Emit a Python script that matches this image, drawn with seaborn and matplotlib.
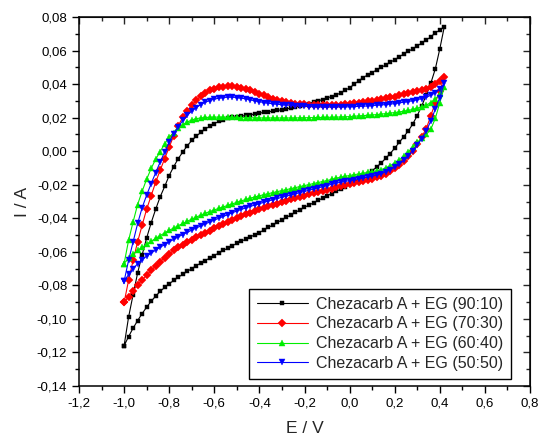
import numpy as np
import matplotlib
matplotlib.use("Agg")
import matplotlib.pyplot as plt
from matplotlib.ticker import MultipleLocator, FuncFormatter
import seaborn as sns

# potential scan, 20 mV steps: -1.00 -> 0.42 V and back
E_fwd = np.round(np.arange(-1.0, 0.4201, 0.02), 2)
E_rev = E_fwd[::-1][1:]

# current (A), forward branch (-1.00..0.42) and reverse branch (0.40..-1.00)
blk_fwd = [-0.1160, -0.0988, -0.0855, -0.0726, -0.0618, -0.0517, -0.0427, -0.0346, -0.0272, -0.0210,
           -0.0145, -0.0092, -0.0045, -0.0005, 0.0032, 0.0064, 0.0089, 0.0112, 0.0132, 0.0149,
           0.0164, 0.0177, 0.0187, 0.0195, 0.0201, 0.0205, 0.0209, 0.0213, 0.0217, 0.0222,
           0.0227, 0.0231, 0.0235, 0.0239, 0.0243, 0.0247, 0.0252, 0.0257, 0.0263, 0.0270,
           0.0277, 0.0284, 0.0292, 0.0300, 0.0308, 0.0317, 0.0326, 0.0335, 0.0347, 0.0362,
           0.0378, 0.0398, 0.0420, 0.0438, 0.0455, 0.0469, 0.0484, 0.0499, 0.0514, 0.0530,
           0.0545, 0.0562, 0.0580, 0.0595, 0.0610, 0.0627, 0.0645, 0.0662, 0.0682, 0.0705,
           0.0722, 0.0742]
blk_rev = [0.0610, 0.0490, 0.0405, 0.0335, 0.0270, 0.0212, 0.0162, 0.0120, 0.0086, 0.0052,
           0.0018, -0.0014, -0.0043, -0.0070, -0.0095, -0.0116, -0.0134, -0.0151, -0.0167, -0.0182,
           -0.0198, -0.0213, -0.0227, -0.0240, -0.0253, -0.0266, -0.0280, -0.0294, -0.0308, -0.0321,
           -0.0335, -0.0350, -0.0365, -0.0380, -0.0395, -0.0410, -0.0425, -0.0440, -0.0455, -0.0470,
           -0.0485, -0.0498, -0.0511, -0.0524, -0.0537, -0.0550, -0.0564, -0.0578, -0.0592, -0.0607,
           -0.0622, -0.0637, -0.0652, -0.0667, -0.0683, -0.0700, -0.0717, -0.0734, -0.0752, -0.0771,
           -0.0790, -0.0812, -0.0836, -0.0864, -0.0895, -0.0930, -0.0968, -0.1010, -0.1055, -0.1105,
           -0.1160]

red_fwd = [-0.0902, -0.0769, -0.0650, -0.0540, -0.0441, -0.0346, -0.0265, -0.0185, -0.0113, -0.0044,
           0.0024, 0.0092, 0.0152, 0.0202, 0.0240, 0.0274, 0.0303, 0.0328, 0.0347, 0.0362,
           0.0373, 0.0380, 0.0385, 0.0388, 0.0388, 0.0385, 0.0379, 0.0371, 0.0362, 0.0352,
           0.0342, 0.0332, 0.0322, 0.0313, 0.0305, 0.0298, 0.0292, 0.0288, 0.0284, 0.0281,
           0.0279, 0.0277, 0.0276, 0.0275, 0.0274, 0.0274, 0.0274, 0.0275, 0.0277, 0.0280,
           0.0283, 0.0287, 0.0290, 0.0294, 0.0298, 0.0302, 0.0306, 0.0311, 0.0316, 0.0321,
           0.0326, 0.0332, 0.0338, 0.0344, 0.0350, 0.0357, 0.0364, 0.0372, 0.0384, 0.0400,
           0.0418, 0.0443]
red_rev = [0.0360, 0.0290, 0.0210, 0.0135, 0.0085, 0.0042, 0.0004, -0.0030, -0.0058, -0.0082,
           -0.0102, -0.0119, -0.0134, -0.0145, -0.0155, -0.0164, -0.0172, -0.0179, -0.0185, -0.0191,
           -0.0197, -0.0203, -0.0209, -0.0216, -0.0223, -0.0230, -0.0237, -0.0244, -0.0251, -0.0258,
           -0.0265, -0.0272, -0.0280, -0.0288, -0.0296, -0.0304, -0.0312, -0.0320, -0.0329, -0.0338,
           -0.0347, -0.0356, -0.0366, -0.0376, -0.0387, -0.0398, -0.0410, -0.0422, -0.0434, -0.0447,
           -0.0460, -0.0473, -0.0486, -0.0499, -0.0513, -0.0527, -0.0542, -0.0557, -0.0574, -0.0592,
           -0.0612, -0.0634, -0.0658, -0.0684, -0.0711, -0.0739, -0.0767, -0.0798, -0.0831, -0.0867,
           -0.0902]

grn_fwd = [-0.0670, -0.0531, -0.0421, -0.0318, -0.0239, -0.0167, -0.0103, -0.0048, -0.0002, 0.0044,
           0.0082, 0.0111, 0.0138, 0.0158, 0.0174, 0.0186, 0.0194, 0.0198, 0.0201, 0.0202,
           0.0203, 0.0203, 0.0203, 0.0202, 0.0202, 0.0201, 0.0200, 0.0200, 0.0199, 0.0199,
           0.0198, 0.0198, 0.0198, 0.0198, 0.0198, 0.0198, 0.0198, 0.0198, 0.0198, 0.0199,
           0.0199, 0.0200, 0.0200, 0.0201, 0.0201, 0.0202, 0.0202, 0.0203, 0.0204, 0.0205,
           0.0206, 0.0208, 0.0210, 0.0212, 0.0214, 0.0216, 0.0218, 0.0221, 0.0224, 0.0227,
           0.0230, 0.0234, 0.0238, 0.0243, 0.0249, 0.0256, 0.0264, 0.0275, 0.0290, 0.0310,
           0.0340, 0.0383]
grn_rev = [0.0290, 0.0195, 0.0130, 0.0100, 0.0078, 0.0052, 0.0024, -0.0004, -0.0030, -0.0052,
           -0.0070, -0.0087, -0.0100, -0.0110, -0.0117, -0.0122, -0.0127, -0.0132, -0.0136, -0.0140,
           -0.0145, -0.0150, -0.0155, -0.0161, -0.0168, -0.0175, -0.0181, -0.0187, -0.0193, -0.0199,
           -0.0205, -0.0211, -0.0217, -0.0223, -0.0229, -0.0235, -0.0241, -0.0247, -0.0253, -0.0259,
           -0.0266, -0.0273, -0.0280, -0.0288, -0.0296, -0.0305, -0.0314, -0.0323, -0.0332, -0.0341,
           -0.0350, -0.0360, -0.0370, -0.0381, -0.0393, -0.0405, -0.0418, -0.0431, -0.0444, -0.0458,
           -0.0472, -0.0487, -0.0503, -0.0520, -0.0537, -0.0555, -0.0573, -0.0592, -0.0612, -0.0638,
           -0.0670]

blu_fwd = [-0.0775, -0.0650, -0.0540, -0.0431, -0.0337, -0.0262, -0.0193, -0.0129, -0.0064, -0.0004,
           0.0055, 0.0105, 0.0145, 0.0183, 0.0214, 0.0239, 0.0260, 0.0278, 0.0292, 0.0302,
           0.0310, 0.0316, 0.0320, 0.0322, 0.0322, 0.0320, 0.0316, 0.0312, 0.0306, 0.0300,
           0.0295, 0.0290, 0.0286, 0.0283, 0.0280, 0.0277, 0.0275, 0.0273, 0.0271, 0.0269,
           0.0267, 0.0266, 0.0265, 0.0264, 0.0263, 0.0263, 0.0263, 0.0263, 0.0264, 0.0264,
           0.0265, 0.0266, 0.0267, 0.0268, 0.0270, 0.0272, 0.0274, 0.0276, 0.0278, 0.0281,
           0.0284, 0.0288, 0.0292, 0.0296, 0.0301, 0.0307, 0.0314, 0.0322, 0.0333, 0.0348,
           0.0370, 0.0405]
blu_rev = [0.0320, 0.0250, 0.0180, 0.0120, 0.0075, 0.0038, 0.0004, -0.0028, -0.0055, -0.0078,
           -0.0096, -0.0111, -0.0124, -0.0134, -0.0142, -0.0149, -0.0155, -0.0160, -0.0165, -0.0170,
           -0.0175, -0.0180, -0.0185, -0.0191, -0.0198, -0.0205, -0.0212, -0.0219, -0.0226, -0.0233,
           -0.0240, -0.0247, -0.0254, -0.0261, -0.0268, -0.0275, -0.0282, -0.0289, -0.0297, -0.0305,
           -0.0313, -0.0321, -0.0329, -0.0338, -0.0347, -0.0357, -0.0367, -0.0378, -0.0389, -0.0400,
           -0.0411, -0.0422, -0.0434, -0.0446, -0.0458, -0.0471, -0.0484, -0.0497, -0.0511, -0.0526,
           -0.0541, -0.0557, -0.0573, -0.0590, -0.0608, -0.0626, -0.0647, -0.0672, -0.0700, -0.0735,
           -0.0775]

labels = ["Chezacarb A + EG (90:10)", "Chezacarb A + EG (70:30)",
          "Chezacarb A + EG (60:40)", "Chezacarb A + EG (50:50)"]
colors = ["#000000", "#ff0000", "#00ee00", "#0000ff"]
markers = ["s", "D", "^", "v"]
msizes = [3.2, 3.6, 4.0, 4.0]
series = [(blk_fwd, blk_rev), (red_fwd, red_rev), (grn_fwd, grn_rev), (blu_fwd, blu_rev)]

sns.set_style("ticks")
plt.rcParams["font.family"] = ["Liberation Sans", "DejaVu Sans"]

fig = plt.figure(figsize=(5.42, 4.46), dpi=100)
ax = fig.add_axes([79 / 542, 1 - 386 / 446, 451 / 542, 369 / 446])

E_loop = np.concatenate([E_fwd, E_rev])
for (fwd, rev), lab, c, m, ms in zip(series, labels, colors, markers, msizes):
    I_loop = np.array(fwd + rev)
    sns.lineplot(x=E_loop, y=I_loop, sort=False, estimator=None, ax=ax,
                 color=c, marker=m, markersize=ms, markeredgewidth=0.3,
                 markeredgecolor=c, linewidth=0.8, label=lab)

ax.set_xlim(-1.2, 0.8)
ax.set_ylim(-0.14, 0.08)


def comma(fmt):
    def f(v, pos):
        if abs(v) < 1e-9:
            v = 0.0
        return fmt.format(v).replace(".", ",")
    return FuncFormatter(f)


ax.xaxis.set_major_locator(MultipleLocator(0.2))
ax.xaxis.set_minor_locator(MultipleLocator(0.1))
ax.yaxis.set_major_locator(MultipleLocator(0.02))
ax.yaxis.set_minor_locator(MultipleLocator(0.01))
ax.xaxis.set_major_formatter(comma("{:.1f}"))
ax.yaxis.set_major_formatter(comma("{:.2f}"))
ax.tick_params(which="both", direction="out", width=1, colors="black", labelsize=9.5)
ax.tick_params(which="major", length=5)
ax.tick_params(which="minor", length=3)
for s in ax.spines.values():
    s.set_linewidth(1.1)
    s.set_color("black")

# mirrored ticks on top and right, pointing inward
top = ax.secondary_xaxis("top")
top.xaxis.set_major_locator(MultipleLocator(0.2))
top.xaxis.set_minor_locator(MultipleLocator(0.1))
top.tick_params(which="both", direction="in", labeltop=False, width=1)
top.tick_params(which="major", length=5)
top.tick_params(which="minor", length=3)
right = ax.secondary_yaxis("right")
right.yaxis.set_major_locator(MultipleLocator(0.02))
right.yaxis.set_minor_locator(MultipleLocator(0.01))
right.tick_params(which="both", direction="in", labelright=False, width=1)
right.tick_params(which="major", length=5)
right.tick_params(which="minor", length=3)

ax.set_xlabel("E / V", fontsize=12.5, labelpad=8)
ax.set_ylabel("I / A", fontsize=12.5, labelpad=5)

leg = ax.legend(loc="lower right", bbox_to_anchor=(0.958, 0.019), borderaxespad=0,
                fontsize=11.5, frameon=True, fancybox=False, edgecolor="black",
                handlelength=3.2, numpoints=1, labelspacing=0.3, borderpad=0.5,
                handletextpad=0.5)
leg.get_frame().set_linewidth(1.0)
leg.get_frame().set_alpha(1)

fig.savefig("out.png", dpi=100)
